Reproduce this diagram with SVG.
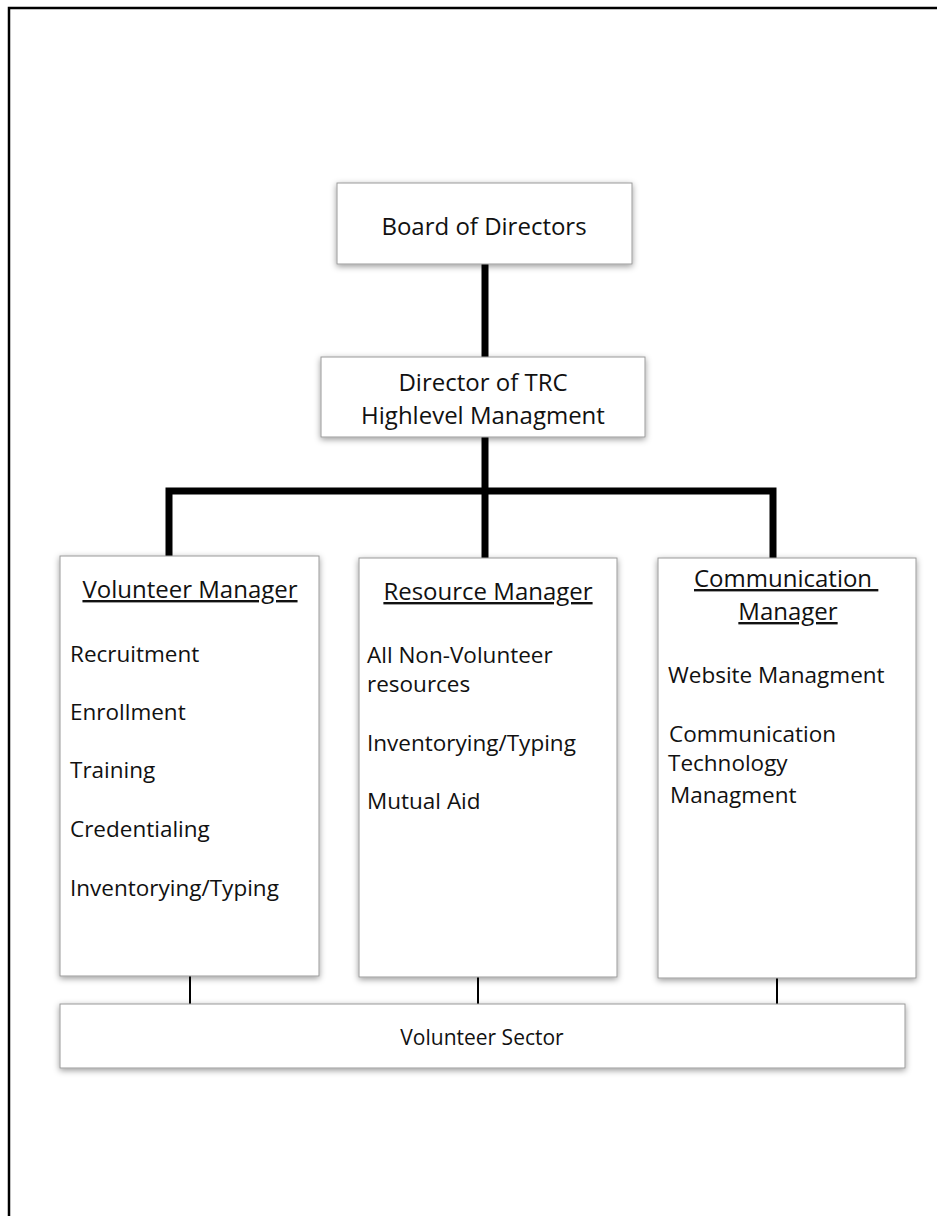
<svg xmlns="http://www.w3.org/2000/svg" width="937" height="1216" viewBox="0 0 937 1216">
<style>
.box{fill:#fff;stroke:#9a9a9a;stroke-width:1;filter:url(#sh)}
.t{font-family:"Open Sans","Liberation Sans",sans-serif;font-size:22.5px;fill:#111}
.h{font-size:24px}
.c{text-anchor:middle}
.u{text-decoration:underline}
.thick{stroke:#000;stroke-width:7;fill:none}
.thin{stroke:#000;stroke-width:2;fill:none}
</style>
<defs>
<filter id="sh" x="-10%" y="-10%" width="120%" height="130%">
<feDropShadow dx="0" dy="2" stdDeviation="3" flood-color="#000" flood-opacity="0.4"/>
</filter>
</defs>
<rect width="937" height="1216" fill="#fff"/>
<path d="M9 1216 V8 H937" stroke="#000" stroke-width="2.5" fill="none"/>
<g id="connectors">
<line class="thick" x1="485" y1="264" x2="485" y2="357"/>
<line class="thick" x1="485" y1="437" x2="485" y2="558"/>
<path class="thick" d="M169 556 V491 H773 V558"/>
<line class="thin" x1="190" y1="976" x2="190" y2="1004"/>
<line class="thin" x1="478" y1="977" x2="478" y2="1004"/>
<line class="thin" x1="777" y1="978" x2="777" y2="1004"/>
</g>
<g id="board">
<rect class="box" x="337" y="183" width="295" height="81"/>
<text class="t h c" x="484" y="235">Board of Directors</text>
</g>
<g id="director">
<rect class="box" x="321" y="357" width="324" height="80"/>
<text class="t h c" x="483" y="391">Director of TRC</text>
<text class="t h c" x="483" y="424">Highlevel Managment</text>
</g>
<g id="volunteer-manager">
<rect class="box" x="60" y="556" width="259" height="420"/>
<text class="t h c u" x="190" y="598">Volunteer Manager</text>
<text class="t" x="70" y="662">Recruitment</text>
<text class="t" x="70" y="720">Enrollment</text>
<text class="t" x="70" y="778">Training</text>
<text class="t" x="70" y="837">Credentialing</text>
<text class="t" x="70" y="896">Inventorying/Typing</text>
</g>
<g id="resource-manager">
<rect class="box" x="359" y="558" width="258" height="419"/>
<text class="t h c u" x="488" y="600">Resource Manager</text>
<text class="t" x="367" y="663">All Non-Volunteer</text>
<text class="t" x="367" y="692">resources</text>
<text class="t" x="367" y="751">Inventorying/Typing</text>
<text class="t" x="367" y="809">Mutual Aid</text>
</g>
<g id="communication-manager">
<rect class="box" x="658" y="558" width="258" height="420"/>
<text class="t h u" x="694" y="587" xml:space="preserve">Communication </text>
<text class="t h c u" x="788" y="620">Manager</text>
<text class="t" x="668" y="683">Website Managment</text>
<text class="t" x="669" y="742">Communication</text>
<text class="t" x="668" y="771">Technology</text>
<text class="t" x="670" y="803">Managment</text>
</g>
<g id="volunteer-sector">
<rect class="box" x="60" y="1004" width="845" height="64"/>
<text class="t c" x="482" y="1045" style="font-size:21px">Volunteer Sector</text>
</g>
</svg>
